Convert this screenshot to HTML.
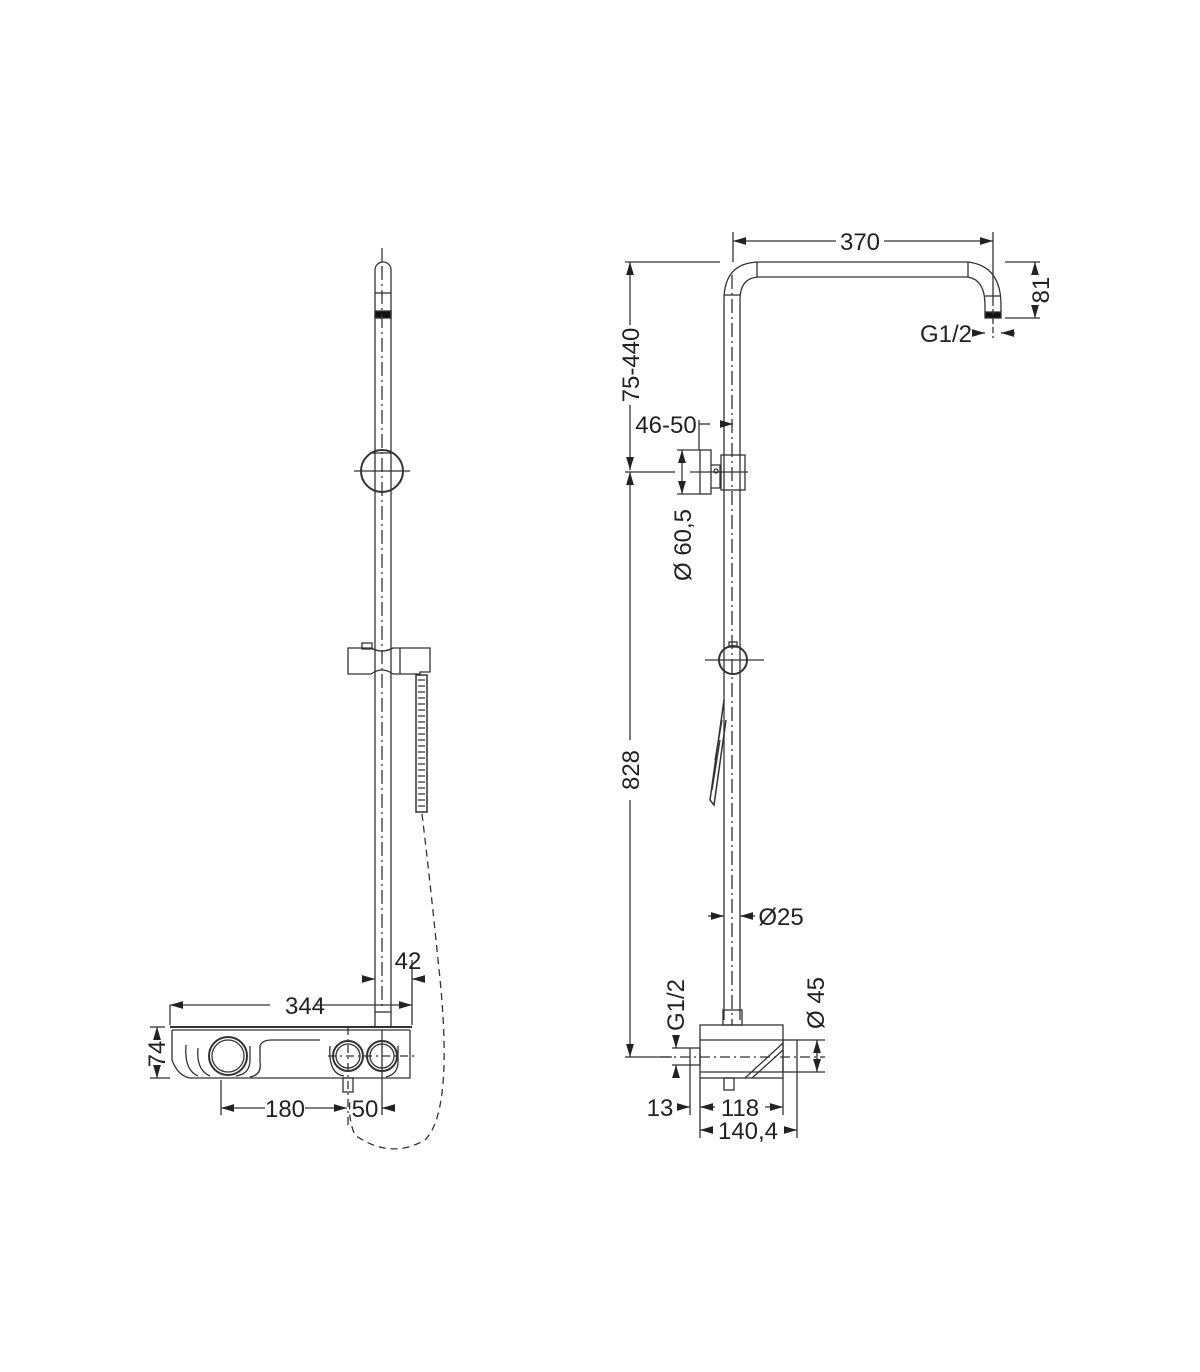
<!DOCTYPE html>
<html><head><meta charset="utf-8"><style>
html,body{margin:0;padding:0;background:#fff;}
svg{display:block}
text{font-family:"Liberation Sans",sans-serif;font-size:24px;fill:#222;}
</style></head><body>
<svg width="1200" height="1372" viewBox="0 0 1200 1372" xmlns="http://www.w3.org/2000/svg">
<defs>
<marker id="a" viewBox="0 0 10 6" refX="10" refY="3" markerWidth="10" markerHeight="6" orient="auto-start-reverse"><path d="M0,0L10,3L0,6z" fill="#222"/></marker>
</defs>
<g stroke="#333" stroke-width="1.3" fill="none">
<line x1="382" y1="248" x2="382" y2="262"/>
<path d="M375,1012V270a7.5,7.5 0 0 1 16,0V1012"/>
<line x1="375" y1="293" x2="391" y2="293"/>
<rect x="375" y="311" width="16" height="7" fill="#111"/>
<line x1="382" y1="266" x2="382" y2="1010" stroke-dasharray="14,4,2,4"/>
<circle cx="382" cy="471" r="21" stroke-width="2"/>
<line x1="354" y1="471" x2="410" y2="471"/>
<line x1="372" y1="453" x2="392" y2="453"/>
<path d="M348,648H371Q382,654 393,648H430V672H420V674H393Q382,666 371,674H348Z"/>
<line x1="400" y1="648" x2="400" y2="674"/>
<rect x="362" y="643" width="10" height="6"/>
<rect x="416" y="675" width="11" height="137" stroke-width="1.5"/>
<path d="M418,680h7M418,686h7M418,692h7M418,698h7M418,704h7M418,710h7M418,716h7M418,722h7M418,728h7M418,734h7M418,740h7M418,746h7M418,752h7M418,758h7M418,764h7M418,770h7M418,776h7M418,782h7M418,788h7M418,794h7M418,800h7M418,806h7"/>
<path d="M422,814Q430,880 438,960Q455,1110 425,1140Q390,1160 355,1135Q348,1120 350,1100" stroke-dasharray="7,5"/>
<rect x="375" y="1012" width="16" height="15"/>
<line x1="170" y1="1027" x2="412" y2="1027" stroke-width="2"/>
<line x1="172" y1="1030" x2="410" y2="1030"/>
<path d="M172,1030V1060Q178,1076 190,1078H410V1030"/>
<path d="M186,1045Q184,1070 198,1076M198,1048Q196,1070 210,1076M250,1046V1060Q250,1074 236,1076M260,1046V1062Q262,1075 250,1077"/>
<path d="M260,1046Q262,1040 272,1040H320M330,1046Q328,1074 344,1076M398,1046V1062Q398,1074 386,1077"/>
<circle cx="228" cy="1056" r="19" stroke-width="2"/>
<circle cx="228" cy="1056" r="16"/>
<circle cx="348" cy="1056" r="15" stroke-width="2"/>
<circle cx="348" cy="1056" r="12"/>
<circle cx="382" cy="1056" r="15" stroke-width="2"/>
<circle cx="382" cy="1056" r="12"/>
<line x1="328" y1="1056" x2="415" y2="1056" stroke-dasharray="8,4,2,4"/>
<line x1="348" y1="1027" x2="348" y2="1125" stroke-dasharray="8,4,2,4"/>
<line x1="382" y1="1030" x2="382" y2="1115"/>
<rect x="343" y="1078" width="10" height="14"/>
<line x1="170" y1="1005" x2="170" y2="1025"/><line x1="412" y1="960" x2="412" y2="1025"/>
<line x1="170" y1="1005" x2="270" y2="1005" marker-start="url(#a)"/><line x1="315" y1="1005" x2="412" y2="1005" marker-end="url(#a)"/>
<line x1="366" y1="979" x2="375" y2="979" marker-end="url(#a)"/><line x1="425" y1="979" x2="412" y2="979" marker-end="url(#a)"/>
<line x1="150" y1="1027" x2="165" y2="1027"/><line x1="150" y1="1078" x2="170" y2="1078"/>
<line x1="157" y1="1027" x2="157" y2="1040" marker-start="url(#a)"/><line x1="157" y1="1068" x2="157" y2="1078" marker-end="url(#a)"/>
<line x1="221" y1="1080" x2="221" y2="1115"/>
<line x1="221" y1="1108" x2="265" y2="1108" marker-start="url(#a)"/><line x1="305" y1="1108" x2="347" y2="1108" marker-end="url(#a)"/>
<line x1="382" y1="1108" x2="395" y2="1108" marker-start="url(#a)"/>
<path d="M724,1020V300Q724,262 760,262H968Q1001,266 1001,305V312"/>
<path d="M740,1020V300Q740,277 760,277H968Q985,280 985,305V312"/>
<line x1="757" y1="262" x2="757" y2="277"/><line x1="968" y1="262" x2="968" y2="277"/>
<line x1="724" y1="295" x2="740" y2="295"/><line x1="985" y1="296" x2="1001" y2="296"/>
<rect x="985" y="312" width="16" height="6" fill="#111"/>
<line x1="732" y1="275" x2="732" y2="1025" stroke-dasharray="14,4,2,4"/>
<line x1="993" y1="300" x2="993" y2="338" stroke-dasharray="6,3"/>
<rect x="700" y="450" width="11" height="44"/>
<path d="M711,465H720V488H711"/>
<rect x="721" y="455" width="24" height="35"/>
<circle cx="716" cy="471" r="2"/>
<line x1="690" y1="472" x2="748" y2="472"/>
<circle cx="733" cy="660" r="14" stroke-width="2"/>
<line x1="705" y1="660" x2="764" y2="660"/>
<rect x="729" y="642" width="8" height="5"/>
<path d="M724,700L710,800L714,805L726,720" stroke-width="1.5"/>
<path d="M715,760L722,720M712,790L720,740"/>
<rect x="723" y="1010" width="19" height="15"/>
<rect x="700" y="1025" width="83" height="53"/>
<line x1="700" y1="1040" x2="783" y2="1040"/>
<line x1="700" y1="1072" x2="783" y2="1072"/>
<path d="M745,1078L783,1043M752,1078L783,1050"/>
<rect x="690" y="1048" width="10" height="17"/>
<rect x="783" y="1040" width="14" height="32"/>
<rect x="724" y="1078" width="10" height="12"/>
<line x1="660" y1="1057" x2="825" y2="1057" stroke-dasharray="10,4,2,4"/>
<line x1="733" y1="232" x2="733" y2="262"/><line x1="993" y1="232" x2="993" y2="300"/>
<line x1="733" y1="241" x2="836" y2="241" marker-start="url(#a)"/><line x1="884" y1="241" x2="993" y2="241" marker-end="url(#a)"/>
<line x1="1005" y1="262" x2="1040" y2="262"/><line x1="1005" y1="318" x2="1040" y2="318"/>
<line x1="1035" y1="262" x2="1035" y2="272" marker-start="url(#a)"/><line x1="1035" y1="308" x2="1035" y2="318" marker-end="url(#a)"/>
<line x1="975" y1="333" x2="985" y2="333" marker-end="url(#a)"/><line x1="1015" y1="333" x2="1001" y2="333" marker-end="url(#a)"/>
<line x1="625" y1="262" x2="720" y2="262"/>
<line x1="630" y1="262" x2="630" y2="325" marker-start="url(#a)"/><line x1="630" y1="405" x2="630" y2="470" marker-end="url(#a)"/>
<line x1="625" y1="472" x2="675" y2="472"/>
<line x1="630" y1="472" x2="630" y2="740" marker-start="url(#a)"/><line x1="630" y1="800" x2="630" y2="1057" marker-end="url(#a)"/>
<line x1="625" y1="1057" x2="672" y2="1057"/>
<line x1="699" y1="420" x2="699" y2="450"/>
<line x1="699" y1="424" x2="710" y2="424"/><line x1="720" y1="424" x2="733" y2="424" marker-end="url(#a)"/>
<line x1="677" y1="450" x2="700" y2="450"/><line x1="677" y1="494" x2="700" y2="494"/>
<line x1="682" y1="450" x2="682" y2="494" marker-start="url(#a)" marker-end="url(#a)"/>
<line x1="708" y1="916" x2="724" y2="916" marker-end="url(#a)"/><line x1="755" y1="916" x2="740" y2="916" marker-end="url(#a)"/>
<line x1="672" y1="1048" x2="690" y2="1048"/><line x1="672" y1="1065" x2="690" y2="1065"/>
<line x1="676" y1="1038" x2="676" y2="1048" marker-end="url(#a)"/><line x1="676" y1="1075" x2="676" y2="1065" marker-end="url(#a)"/>
<line x1="797" y1="1040" x2="825" y2="1040"/><line x1="797" y1="1072" x2="825" y2="1072"/>
<line x1="817" y1="1040" x2="817" y2="1072" marker-start="url(#a)" marker-end="url(#a)"/>
<line x1="690" y1="1065" x2="690" y2="1115"/><line x1="700" y1="1078" x2="700" y2="1138"/>
<line x1="783" y1="1078" x2="783" y2="1115"/><line x1="797" y1="1072" x2="797" y2="1138"/>
<line x1="678" y1="1107" x2="690" y2="1107" marker-end="url(#a)"/>
<line x1="700" y1="1107" x2="715" y2="1107" marker-start="url(#a)"/><line x1="765" y1="1107" x2="783" y2="1107" marker-end="url(#a)"/>
<line x1="700" y1="1130" x2="712" y2="1130" marker-start="url(#a)"/><line x1="784" y1="1130" x2="797" y2="1130" marker-end="url(#a)"/>
</g>
<g>
<text x="305" y="1014" text-anchor="middle">344</text>
<text x="408" y="969" text-anchor="middle">42</text>
<text x="285" y="1117" text-anchor="middle">180</text>
<text x="365" y="1117" text-anchor="middle">50</text>
<text transform="translate(165,1054) rotate(-90)" text-anchor="middle">74</text>
<text x="860" y="250" text-anchor="middle">370</text>
<text transform="translate(1049,290) rotate(-90)" text-anchor="middle">81</text>
<text x="946" y="342" text-anchor="middle">G1/2</text>
<text transform="translate(639,365) rotate(-90)" text-anchor="middle">75-440</text>
<text transform="translate(639,770) rotate(-90)" text-anchor="middle">828</text>
<text x="666" y="433" text-anchor="middle">46-50</text>
<text transform="translate(691,545) rotate(-90)" text-anchor="middle">Ø 60,5</text>
<text x="781" y="925" text-anchor="middle">Ø25</text>
<text transform="translate(684,1005) rotate(-90)" text-anchor="middle">G1/2</text>
<text transform="translate(824,1003) rotate(-90)" text-anchor="middle">Ø 45</text>
<text x="660" y="1116" text-anchor="middle">13</text>
<text x="740" y="1116" text-anchor="middle">118</text>
<text x="748" y="1139" text-anchor="middle">140,4</text>
</g>
</svg>
</body></html>
